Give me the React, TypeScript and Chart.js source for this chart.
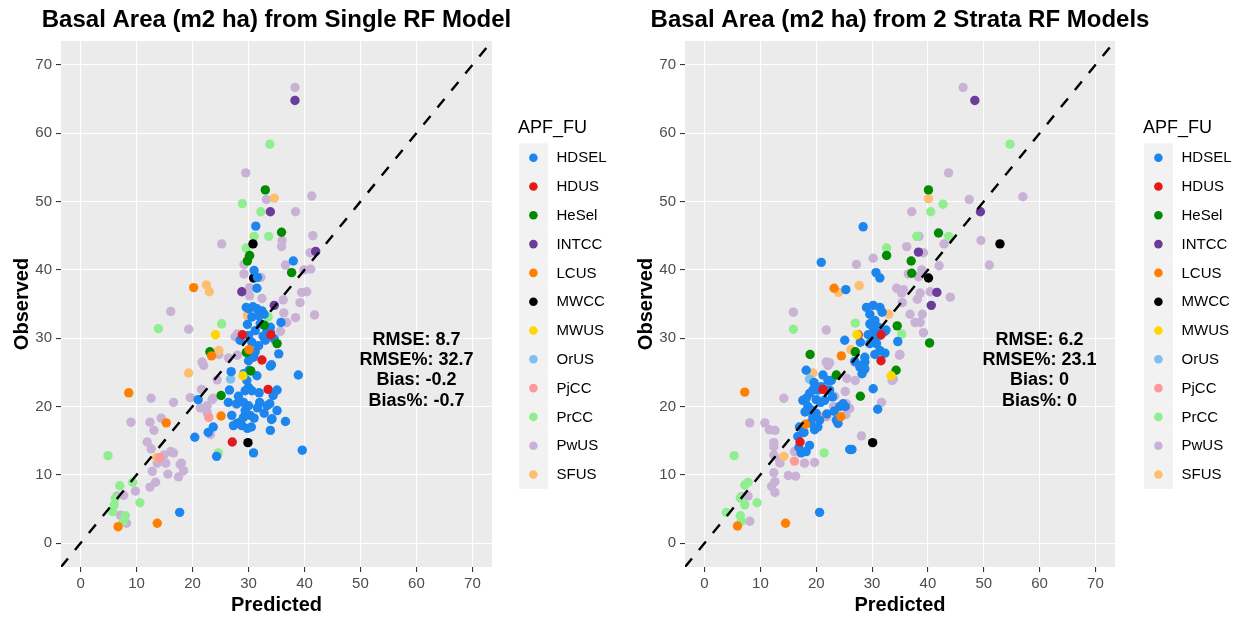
import React, { useEffect, useRef } from 'react';
import { Chart, registerables } from 'chart.js';

Chart.register(...registerables);

const FONT = '"Liberation Sans", Arial, sans-serif';

const GROUPS = ['HDSEL', 'HDUS', 'HeSel', 'INTCC', 'LCUS', 'MWCC', 'MWUS', 'OrUS', 'PjCC', 'PrCC', 'PwUS', 'SFUS'];
const COLORS = ['#1C86EE', '#E31A1C', '#008B00', '#6A3D9A', '#FF7F00', '#000000', '#FFD700', '#7EC0EE', '#FB9A99', '#90EE90', '#CAB2D6', '#FDBF6F'];
// drawing order, topmost first
const DRAW_ORDER = ['MWUS', 'LCUS', 'INTCC', 'HDUS', 'HeSel', 'HDSEL', 'MWCC', 'OrUS', 'PjCC', 'SFUS', 'PrCC', 'PwUS'];

const TICKS = [0, 10, 20, 30, 40, 50, 60, 70];
const AXIS_MIN = -3.5;
const AXIS_MAX = 73.5;

const TITLE_SINGLE = 'Basal Area (m2 ha) from Single RF Model';
const TITLE_STRATA = 'Basal Area (m2 ha) from 2 Strata RF Models';
const X_TITLE = 'Predicted';
const Y_TITLE = 'Observed';
const LEGEND_TITLE = 'APF_FU';

const STATS_SINGLE = ['RMSE: 8.7', 'RMSE%: 32.7', 'Bias: -0.2', 'Bias%: -0.7'];
const STATS_STRATA = ['RMSE: 6.2', 'RMSE%: 23.1', 'Bias: 0', 'Bias%: 0'];
const STATS_AT = [60, 25.3];

// ---------- Single RF model: [predicted, observed] ----------
const HDSEL_SINGLE = [
  [31.3, 46.4], [38.0, 41.3], [31.0, 39.9], [31.6, 38.9], [31.5, 37.3],
  [30.0, 34.3], [31.5, 34.3], [32.4, 34.0], [30.6, 33.1], [31.8, 33.3], [32.1, 32.1], [33.9, 31.6],
  [33.3, 31.1], [31.2, 31.1], [30.0, 30.4], [28.5, 29.7], [30.6, 29.4], [31.8, 28.9], [31.2, 28.0],
  [33.0, 29.7], [34.6, 29.9], [35.8, 32.3], [33.9, 30.9], [35.4, 27.7], [33.9, 25.9], [30.0, 26.7],
  [30.1, 25.3], [29.7, 23.8], [30.0, 22.8], [29.4, 22.3], [26.9, 25.1], [26.6, 22.4], [28.2, 21.5],
  [30.6, 22.3], [26.4, 20.6], [27.9, 20.4], [29.1, 20.6], [29.4, 19.4], [30.0, 20.1], [30.3, 18.7],
  [32.0, 20.6], [33.3, 20.1], [35.1, 22.4], [34.4, 21.6], [33.8, 20.4], [35.1, 19.4], [31.0, 18.3],
  [34.2, 18.2], [36.6, 17.8], [33.9, 16.5], [29.1, 18.4], [28.5, 17.7], [27.0, 18.7], [27.3, 17.2],
  [27.9, 17.5], [28.8, 17.2], [23.7, 17.0], [22.8, 16.2], [20.4, 15.5], [30.9, 13.2], [24.3, 12.7],
  [39.6, 13.6], [38.9, 24.6], [17.7, 4.5], [21.0, 21.0], [34.1, 26.1], [34.1, 18.1], [29.6, 34.5],
  [30.8, 34.6], [32.8, 33.5], [29.8, 32.0], [32.6, 30.3], [30.9, 27.2], [31.5, 24.5], [29.2, 24.8],
  [31.9, 22.0], [32.8, 19.0], [31.6, 19.8], [29.8, 16.8], [30.5, 17.0],
];
const HDUS_SINGLE = [[28.9, 30.5], [34.0, 30.5], [32.4, 26.8], [33.5, 22.5], [27.1, 14.8]];
const HESEL_SINGLE = [
  [33.0, 51.7], [35.9, 45.5], [30.2, 42.1], [29.8, 41.3], [37.7, 39.6], [30.4, 25.2],
  [25.1, 21.6], [23.1, 28.0], [29.6, 27.9], [35.1, 29.2], [32.8, 31.9],
];
const INTCC_SINGLE = [[38.3, 64.8], [33.9, 48.5], [42.0, 42.7], [28.8, 36.8], [34.6, 34.8]];
const LCUS_SINGLE = [[20.2, 37.4], [8.6, 22.0], [15.3, 17.6], [25.1, 18.6], [23.4, 27.4], [6.7, 2.4], [13.7, 2.9], [30.1, 28.3]];
const MWCC_SINGLE = [[30.8, 43.8], [30.9, 38.8], [29.9, 14.7]];
const MWUS_SINGLE = [[24.1, 30.5], [29.0, 24.5]];
const ORUS_SINGLE = [[26.8, 24.0]];
const PJCC_SINGLE = [[22.9, 18.4], [14.1, 12.5]];
const PRCC_SINGLE = [
  [33.8, 58.4], [28.9, 49.7], [32.2, 48.5], [33.6, 44.9], [31.0, 44.9], [29.6, 43.2], [29.7, 41.2],
  [33.5, 33.1], [13.9, 31.4], [25.2, 32.1], [24.6, 13.2], [4.9, 12.8], [7.0, 8.4], [9.3, 8.9],
  [10.6, 5.9], [6.2, 6.6], [6.0, 5.6], [5.7, 4.6], [8.0, 4.0], [7.6, 3.2],
];
const PWUS_SINGLE = [
  [38.3, 66.7], [29.5, 54.2], [33.2, 50.3], [41.3, 50.8], [38.4, 48.5], [36.0, 44.3], [35.9, 43.4],
  [41.5, 45.0], [25.2, 43.8], [30.0, 41.8], [29.2, 40.8], [41.0, 42.5], [36.6, 40.7], [39.9, 40.0],
  [41.1, 40.1], [29.2, 39.4], [32.2, 38.9], [30.2, 37.4], [30.2, 36.2], [32.4, 35.8], [39.5, 36.7],
  [40.4, 36.8], [39.2, 35.2], [36.2, 35.6], [16.1, 33.9], [36.3, 33.7], [41.8, 33.4], [38.4, 33.0],
  [36.8, 32.3], [19.3, 31.3], [35.7, 31.0], [28.0, 30.6], [27.6, 30.2], [21.7, 26.5], [24.7, 27.6],
  [26.4, 27.1], [28.0, 27.5], [24.4, 23.9], [21.6, 22.5], [19.6, 21.3], [23.7, 21.2], [22.6, 20.1],
  [21.4, 19.8], [22.6, 19.1], [23.5, 21.0], [23.2, 15.9], [12.6, 21.2], [16.6, 20.6], [9.0, 17.7],
  [12.4, 17.7], [13.1, 16.5], [14.4, 18.3], [11.9, 14.8], [12.6, 13.8], [14.9, 12.9], [16.1, 13.4],
  [13.7, 11.7], [15.2, 11.7], [18.0, 11.7], [18.4, 10.6], [17.5, 9.7], [15.6, 10.1], [12.8, 10.5],
  [13.4, 8.9], [12.4, 8.2], [9.8, 7.6], [7.7, 7.0], [6.5, 6.9], [7.1, 4.1], [8.2, 2.9], [22.0, 26.0],
  [27.8, 20.3], [16.6, 13.2], [17.8, 11.5],
];
const SFUS_SINGLE = [[34.6, 50.5], [22.5, 37.8], [23.0, 36.8], [29.8, 33.3], [19.3, 24.9], [24.7, 28.2], [13.6, 12.5]];

// ---------- 2 strata RF models: [predicted, observed] ----------
const HDSEL_STRATA = [
  [28.4, 46.3], [20.9, 41.1], [30.7, 39.6], [31.4, 38.8], [25.3, 37.1],
  [29.0, 34.5], [30.2, 34.8], [31.4, 34.5], [29.6, 33.5], [30.5, 32.6], [29.6, 32.1], [31.1, 31.6],
  [32.3, 31.0], [30.2, 30.9], [31.4, 30.4], [30.2, 29.7], [30.8, 29.2], [29.6, 29.2], [31.4, 28.2],
  [28.7, 27.2], [28.1, 26.0], [28.7, 26.5], [28.7, 25.5], [27.8, 25.8], [25.1, 29.7], [27.9, 29.4],
  [34.6, 29.5], [32.3, 27.8], [30.2, 22.6], [31.0, 19.6], [26.0, 13.7], [24.8, 20.4], [24.2, 20.0],
  [23.6, 18.0], [23.9, 17.5], [22.1, 23.8], [21.8, 22.4], [20.9, 22.9], [21.5, 20.9], [20.3, 22.4],
  [17.6, 20.9], [18.2, 21.2], [18.8, 21.9], [18.5, 20.0], [19.1, 19.5], [20.0, 19.0], [20.6, 18.0],
  [19.4, 18.5], [20.3, 17.0], [19.7, 16.6], [17.0, 17.0], [16.7, 15.6], [18.2, 25.3], [21.2, 24.6],
  [22.7, 23.8], [19.4, 22.4], [22.4, 22.4], [17.3, 13.2], [18.2, 13.4], [20.6, 4.5], [26.4, 13.7],
  [32.5, 31.2], [25.2, 20.0], [19.0, 17.6], [20.8, 20.6], [21.9, 18.9], [18.0, 19.2], [17.8, 16.2],
  [22.9, 21.4], [20.0, 21.0], [19.6, 23.5], [28.2, 24.8], [30.5, 27.6], [29.9, 31.9], [31.8, 33.8],
  [30.8, 31.7], [29.3, 30.5], [26.9, 26.6], [23.2, 19.3], [16.9, 14.0], [18.8, 14.3],
];
const HDUS_STRATA = [[27.5, 30.5], [31.6, 30.5], [31.6, 26.7], [17.1, 14.8], [21.2, 22.5]];
const HESEL_STRATA = [
  [40.1, 51.7], [41.9, 45.4], [32.6, 42.1], [37.0, 41.3], [37.1, 39.5], [34.5, 31.8],
  [18.9, 27.6], [27.0, 28.0], [27.9, 21.5], [34.3, 25.3], [40.3, 29.3], [23.6, 24.6],
];
const INTCC_STRATA = [[48.4, 64.8], [49.4, 48.5], [38.3, 42.6], [41.6, 36.7], [40.6, 34.8]];
const LCUS_STRATA = [[23.2, 37.3], [7.2, 22.1], [14.5, 2.9], [5.9, 2.5], [24.5, 27.4], [24.4, 18.5], [18.1, 17.4]];
const MWCC_STRATA = [[52.9, 43.8], [40.1, 38.8], [30.1, 14.7]];
const MWUS_STRATA = [[27.3, 30.5], [33.4, 24.5]];
const ORUS_STRATA = [[18.8, 24.0]];
const PJCC_STRATA = [[21.5, 18.6], [16.1, 12.0]];
const PRCC_STRATA = [
  [54.7, 58.4], [42.7, 49.6], [40.5, 48.5], [43.7, 44.9], [38.0, 44.9], [32.6, 43.2], [15.9, 31.3],
  [27.0, 32.2], [35.3, 30.6], [21.4, 13.2], [5.3, 12.8], [7.2, 8.5], [7.8, 8.9], [9.4, 5.9],
  [6.4, 6.6], [7.2, 5.6], [3.9, 4.5], [6.4, 4.0], [6.6, 3.2],
];
const PWUS_STRATA = [
  [46.3, 66.7], [43.7, 54.2], [47.4, 50.3], [57.0, 50.7], [37.1, 48.5], [38.4, 44.9], [42.9, 43.8],
  [36.2, 43.4], [39.2, 42.5], [49.5, 44.3], [51.0, 40.7], [42.0, 40.6], [30.2, 41.7], [27.2, 40.8],
  [38.9, 40.0], [38.3, 39.0], [36.5, 39.4], [34.4, 37.3], [35.6, 37.1], [35.3, 36.6], [38.6, 36.6],
  [40.4, 36.8], [44.0, 36.0], [15.9, 33.8], [21.8, 31.2], [36.8, 33.5], [39.0, 33.5], [38.6, 32.3],
  [35.4, 35.2], [38.1, 35.7], [37.7, 32.3], [39.2, 30.8], [34.9, 27.5], [31.4, 28.1], [22.4, 26.4],
  [21.8, 26.5], [22.1, 26.0], [27.0, 23.8], [25.5, 24.1], [25.2, 22.2], [25.4, 20.4], [26.0, 19.7],
  [23.1, 20.0], [21.9, 18.5], [14.2, 21.2], [8.1, 17.6], [10.8, 17.6], [12.6, 16.5], [12.4, 14.7],
  [12.4, 14.1], [16.1, 13.4], [12.4, 12.9], [13.5, 11.7], [15.0, 9.9], [16.3, 9.8], [17.9, 11.7],
  [19.7, 11.8], [12.4, 10.3], [12.6, 9.0], [12.0, 8.3], [12.6, 7.4], [7.8, 6.9], [6.6, 6.8],
  [8.1, 3.2], [28.1, 15.7], [31.7, 20.6], [33.6, 23.8], [31.6, 28.0], [35.0, 27.6], [33.8, 24.0],
  [11.6, 16.6], [13.4, 12.2], [27.0, 26.4], [20.9, 22.7], [23.3, 21.5], [25.3, 18.8],
];
const SFUS_STRATA = [[40.1, 50.4], [24.0, 36.7], [27.7, 37.7], [33.0, 33.5], [26.2, 28.3], [19.4, 24.9], [14.2, 12.7]];

const SERIES_SINGLE = [HDSEL_SINGLE, HDUS_SINGLE, HESEL_SINGLE, INTCC_SINGLE, LCUS_SINGLE, MWCC_SINGLE, MWUS_SINGLE, ORUS_SINGLE, PJCC_SINGLE, PRCC_SINGLE, PWUS_SINGLE, SFUS_SINGLE];
const SERIES_STRATA = [HDSEL_STRATA, HDUS_STRATA, HESEL_STRATA, INTCC_STRATA, LCUS_STRATA, MWCC_STRATA, MWUS_STRATA, ORUS_STRATA, PJCC_STRATA, PRCC_STRATA, PWUS_STRATA, SFUS_STRATA];

const overlayPlugin = {
  id: 'ggOverlay',
  beforeDraw(chart: any) {
    const { ctx, chartArea } = chart;
    ctx.save();
    ctx.fillStyle = '#FFFFFF';
    ctx.fillRect(0, 0, chart.width, chart.height);
    ctx.fillStyle = '#EBEBEB';
    ctx.fillRect(chartArea.left, chartArea.top, chartArea.right - chartArea.left, chartArea.bottom - chartArea.top);
    ctx.restore();
  },
  afterDraw(chart: any, _args: any, opts: any) {
    const { ctx, chartArea, scales } = chart;
    ctx.save();
    // title
    ctx.fillStyle = '#000';
    ctx.font = `bold 24px ${FONT}`;
    ctx.textAlign = 'center';
    ctx.textBaseline = 'middle';
    ctx.fillText(opts.title, (chartArea.left + chartArea.right) / 2, 20);
    // stats annotation
    ctx.font = `bold 18px ${FONT}`;
    const sx = scales.x.getPixelForValue(STATS_AT[0]);
    const sy = scales.y.getPixelForValue(STATS_AT[1]);
    const lines: string[] = opts.stats;
    lines.forEach((t, i) => {
      ctx.fillText(t, sx, sy + (i - (lines.length - 1) / 2) * 20.2);
    });
    // legend
    const keyLeft = chartArea.right + opts.legendGap;
    const key = 28.8;
    const top = 143.3;
    ctx.textAlign = 'left';
    ctx.font = `18px ${FONT}`;
    ctx.fillText(LEGEND_TITLE, keyLeft - 1, 128);
    ctx.font = `15px ${FONT}`;
    GROUPS.forEach((g, i) => {
      const y0 = top + i * key;
      ctx.fillStyle = '#F2F2F2';
      ctx.fillRect(keyLeft, y0, key, key);
      ctx.fillStyle = COLORS[i];
      ctx.beginPath();
      ctx.arc(keyLeft + key / 2, y0 + key / 2, 4.3, 0, Math.PI * 2);
      ctx.fill();
      ctx.fillStyle = '#000';
      ctx.fillText(g, keyLeft + 37.5, y0 + key / 2 + 0.5);
    });
    ctx.restore();
  },
};

type PanelProps = {
  left: number;
  width: number;
  areaLeft: number;
  areaRight: number;
  title: string;
  series: number[][][];
  stats: string[];
  legendGap: number;
};

function Panel({ left, width, areaLeft, areaRight, title, series, stats, legendGap }: PanelProps) {
  const ref = useRef<HTMLCanvasElement>(null);
  useEffect(() => {
    const canvas = ref.current;
    if (!canvas) return;
    const datasets: any[] = [
      {
        label: 'identity',
        data: [{ x: AXIS_MIN, y: AXIS_MIN }, { x: AXIS_MAX, y: AXIS_MAX }],
        showLine: true,
        pointRadius: 0,
        borderColor: '#000000',
        borderWidth: 2.4,
        borderDash: [11, 11],
        fill: false,
      },
    ];
    DRAW_ORDER.forEach((g) => {
      const i = GROUPS.indexOf(g);
      datasets.push({
        label: g,
        data: series[i].map(([x, y]) => ({ x, y })),
        backgroundColor: COLORS[i],
        borderColor: COLORS[i],
        borderWidth: 0,
        pointRadius: 4.7,
        pointHoverRadius: 4.7,
        showLine: false,
      });
    });
    const axisCommon = (titleText: string, isX: boolean) => ({
      type: 'linear',
      min: AXIS_MIN,
      max: AXIS_MAX,
      afterBuildTicks: (s: any) => {
        s.ticks = TICKS.map((v) => ({ value: v }));
      },
      afterFit: (s: any) => {
        if (isX) s.height = 51;
        else s.width = 51;
      },
      grid: { color: '#FFFFFF', lineWidth: 1.1, tickColor: '#333333', tickLength: 5, tickWidth: 1.1 },
      border: { display: false },
      ticks: { color: '#4D4D4D', font: { size: 15, family: FONT }, padding: isX ? 3 : 4, maxRotation: 0, autoSkip: false },
      title: {
        display: true,
        text: titleText,
        color: '#000000',
        font: { size: 20, weight: 'bold', family: FONT },
        padding: isX ? { top: 0, bottom: 1 } : { top: 0, bottom: 0 },
      },
    });
    const chart = new Chart(canvas, {
      type: 'scatter',
      data: { datasets },
      options: {
        animation: false,
        responsive: false,
        maintainAspectRatio: false,
        events: [],
        layout: { padding: { left: areaLeft - 51, right: width - areaRight, top: 41, bottom: 0 } },
        plugins: {
          legend: { display: false },
          tooltip: { enabled: false },
          title: { display: false },
          ggOverlay: { title, stats, legendGap },
        } as any,
        scales: {
          x: axisCommon(X_TITLE, true) as any,
          y: axisCommon(Y_TITLE, false) as any,
        },
      },
      plugins: [overlayPlugin],
    });
    return () => chart.destroy();
  }, []);
  return (
    <canvas
      ref={ref}
      width={width}
      height={618}
      style={{ position: 'absolute', left, top: 0, width, height: 618, display: 'block' }}
    />
  );
}

export default function App() {
  return (
    <div style={{ position: 'fixed', left: 0, top: 0, width: 1239, height: 618, background: '#FFFFFF', overflow: 'hidden' }}>
      <Panel left={0} width={620} areaLeft={61} areaRight={492} title={TITLE_SINGLE} series={SERIES_SINGLE} stats={STATS_SINGLE} legendGap={27} />
      <Panel left={620} width={619} areaLeft={65} areaRight={495} title={TITLE_STRATA} series={SERIES_STRATA} stats={STATS_STRATA} legendGap={29} />
    </div>
  );
}
